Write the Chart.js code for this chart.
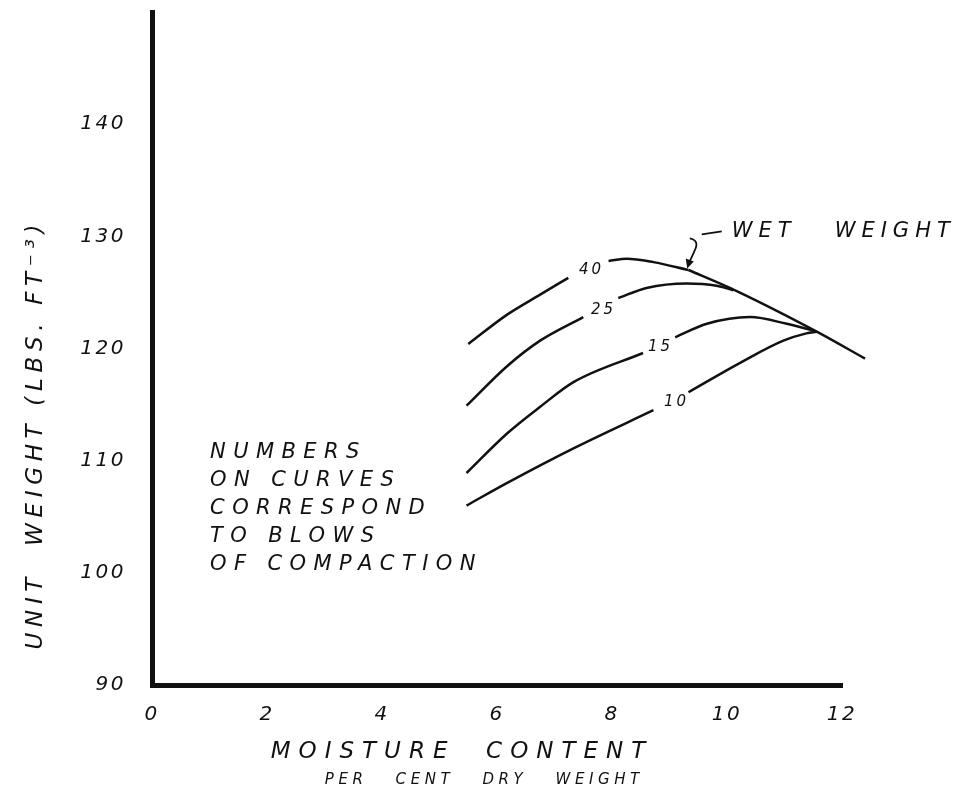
<!DOCTYPE html>
<html>
<head>
<meta charset="utf-8">
<script src="https://cdn.jsdelivr.net/npm/chart.js@4"></script>
<style>body{margin:0;background:#fff}</style>
</head>
<body>
<canvas id="myChart" width="958" height="790"></canvas>
<script>
// curves, null = gap where the blow count is written
const moisture40 = [5.5, 6.17, 6.75, 7.24, 7.6, 7.94, 8.26, 8.72, 9.33];
const weight40 = [120.4, 123.0, 124.8, 126.3, null, 127.8, 128.0, 127.7, 127.0];
const moisture25 = [5.47, 6.17, 6.75, 7.5, 7.8, 8.11, 8.6, 9.3, 9.82, 10.11];
const weight25 = [114.9, 118.4, 120.7, 122.8, null, 124.5, 125.4, 125.8, 125.6, 125.2];
const moisture15 = [5.47, 6.17, 6.75, 7.33, 8.54, 8.8, 9.1, 9.65, 10.4, 11.04, 11.5];
const weight15 = [108.9, 112.4, 114.8, 117.0, 119.6, null, 121.0, 122.2, 122.8, 122.2, 121.6];
const moisture10 = [5.47, 6.17, 7.33, 8.72, 9.05, 9.33, 10.22, 10.98, 11.38, 11.56];
const weight10 = [106.0, 108.0, 111.1, 114.5, null, 116.1, 118.7, 120.7, 121.35, 121.5];
const moistureWet = [9.33, 10.05, 11.56, 12.4];
const weightWet = [127.0, 125.4, 121.5, 119.1];

const blowLabels = ['40', '25', '15', '10'];
const blowLabelX = [7.6, 7.81, 8.8, 9.08];
const blowLabelY = [127.0, 123.4, 120.1, 115.2];

const xTicks = [0, 2, 4, 6, 8, 10, 12];
const yTicks = [90, 100, 110, 120, 130, 140];

const noteLines = ['NUMBERS', 'ON CURVES', 'CORRESPOND', 'TO BLOWS', 'OF COMPACTION'];

const ink = '#111';
const face = '"DejaVu Sans"';

function pts(xs, ys) {
	return xs.map((x, i) => ({x: x, y: ys[i]}));
}

function curve(xs, ys) {
	return {
		data: pts(xs, ys),
		borderColor: ink,
		borderWidth: 2.5,
		pointRadius: 0,
		cubicInterpolationMode: 'monotone',
		spanGaps: false,
		clip: false
	};
}

// hand lettering look: italic text with fixed letter spacing
function letter(ctx, text, x, y, font, ls, align) {
	ctx.font = font;
	ctx.letterSpacing = ls + 'px';
	ctx.textAlign = 'left';
	ctx.textBaseline = 'middle';
	const w = ctx.measureText(text).width - ls;
	const left = align === 'center' ? x - w / 2 : x;
	ctx.fillText(text, left, y);
}

// same, but spacing chosen so the text fills a width
function fitted(ctx, text, x, y, width, font) {
	ctx.font = font;
	ctx.letterSpacing = '0px';
	const plain = ctx.measureText(text).width;
	const ls = Math.max(0, (width - plain) / (text.length - 1));
	letter(ctx, text, x, y, font, ls, 'center');
}

const notes = {
	id: 'notes',
	beforeDraw(chart) {
		chart.ctx.letterSpacing = '2.5px';
	},
	afterDraw(chart) {
		const ctx = chart.ctx;
		const xs = chart.scales.x, ys = chart.scales.y;
		ctx.save();
		ctx.fillStyle = ink;
		ctx.strokeStyle = ink;

		// axis titles
		ctx.save();
		ctx.translate(36, 437);
		ctx.rotate(-Math.PI / 2);
		fitted(ctx, 'UNIT  WEIGHT (LBS. FT⁻³)', 0, 0, 425, 'italic 23px ' + face);
		ctx.restore();
		letter(ctx, 'MOISTURE  CONTENT', 458, 752, 'italic 23px ' + face, 8, 'center');
		letter(ctx, 'PER   CENT   DRY   WEIGHT', 482, 780, 'italic 15px ' + face, 4.6, 'center');

		// blow counts on the curves
		blowLabels.forEach((t, i) => {
			letter(ctx, t, xs.getPixelForValue(blowLabelX[i]) + 1, ys.getPixelForValue(blowLabelY[i]),
				'italic 15px ' + face, 3, 'center');
		});

		// note block
		const nx = xs.getPixelForValue(1.01);
		const ny = ys.getPixelForValue(110.7);
		noteLines.forEach((t, i) => letter(ctx, t, nx, ny + i * 28, 'italic 21px ' + face, 7.4, 'left'));

		// wet weight label with leader
		const tx = xs.getPixelForValue(9.3);
		const ty = ys.getPixelForValue(127.05);
		letter(ctx, 'WET   WEIGHT', tx + 45, ty - 38, 'italic 21px ' + face, 6, 'left');
		ctx.lineWidth = 1.8;
		ctx.beginPath();
		ctx.moveTo(tx + 15, ty - 35);
		ctx.lineTo(tx + 35, ty - 38);
		ctx.stroke();
		ctx.beginPath();
		ctx.moveTo(tx + 3, ty - 31);
		ctx.quadraticCurveTo(tx + 13, ty - 29, tx + 8, ty - 19);
		ctx.lineTo(tx + 3, ty - 8);
		ctx.stroke();
		ctx.beginPath();
		ctx.moveTo(tx + 0.5, ty - 1);
		ctx.lineTo(tx - 1, ty - 11);
		ctx.lineTo(tx + 7, ty - 8);
		ctx.closePath();
		ctx.fill();
		ctx.restore();
	}
};

const ctx = document.getElementById('myChart');

new Chart(ctx, {
	type: 'line',
	data: {
		datasets: [
			curve(moisture40, weight40),
			curve(moisture25, weight25),
			curve(moisture15, weight15),
			curve(moisture10, weight10),
			curve(moistureWet, weightWet)
		]
	},
	options: {
		responsive: false,
		animation: false,
		events: [],
		layout: {
			padding: {left: 0, right: 116, top: 12, bottom: 0}
		},
		plugins: {
			legend: {display: false},
			tooltip: {enabled: false}
		},
		scales: {
			x: {
				type: 'linear',
				min: 0,
				max: 12,
				afterFit: (s) => {
					s.height = 105;
					s.paddingLeft = 0;
					s.paddingRight = 0;
				},
				afterBuildTicks: (s) => { s.ticks = xTicks.map(v => ({value: v})); },
				grid: {drawOnChartArea: false, drawTicks: false},
				border: {display: true, width: 5, color: ink},
				ticks: {
					color: ink,
					padding: 18,
					font: {family: face, size: 20, style: 'italic'}
				}
			},
			y: {
				type: 'linear',
				min: 90,
				max: 150,
				afterFit: (s) => {
					s.width = 152;
					s.paddingTop = 0;
					s.paddingBottom = 0;
				},
				afterBuildTicks: (s) => { s.ticks = yTicks.map(v => ({value: v})); },
				grid: {drawOnChartArea: false, drawTicks: false},
				border: {display: true, width: 5, color: ink},
				ticks: {
					color: ink,
					padding: 26,
					font: {family: face, size: 20, style: 'italic'}
				}
			}
		}
	},
	plugins: [notes]
});
</script>
</body>
</html>
